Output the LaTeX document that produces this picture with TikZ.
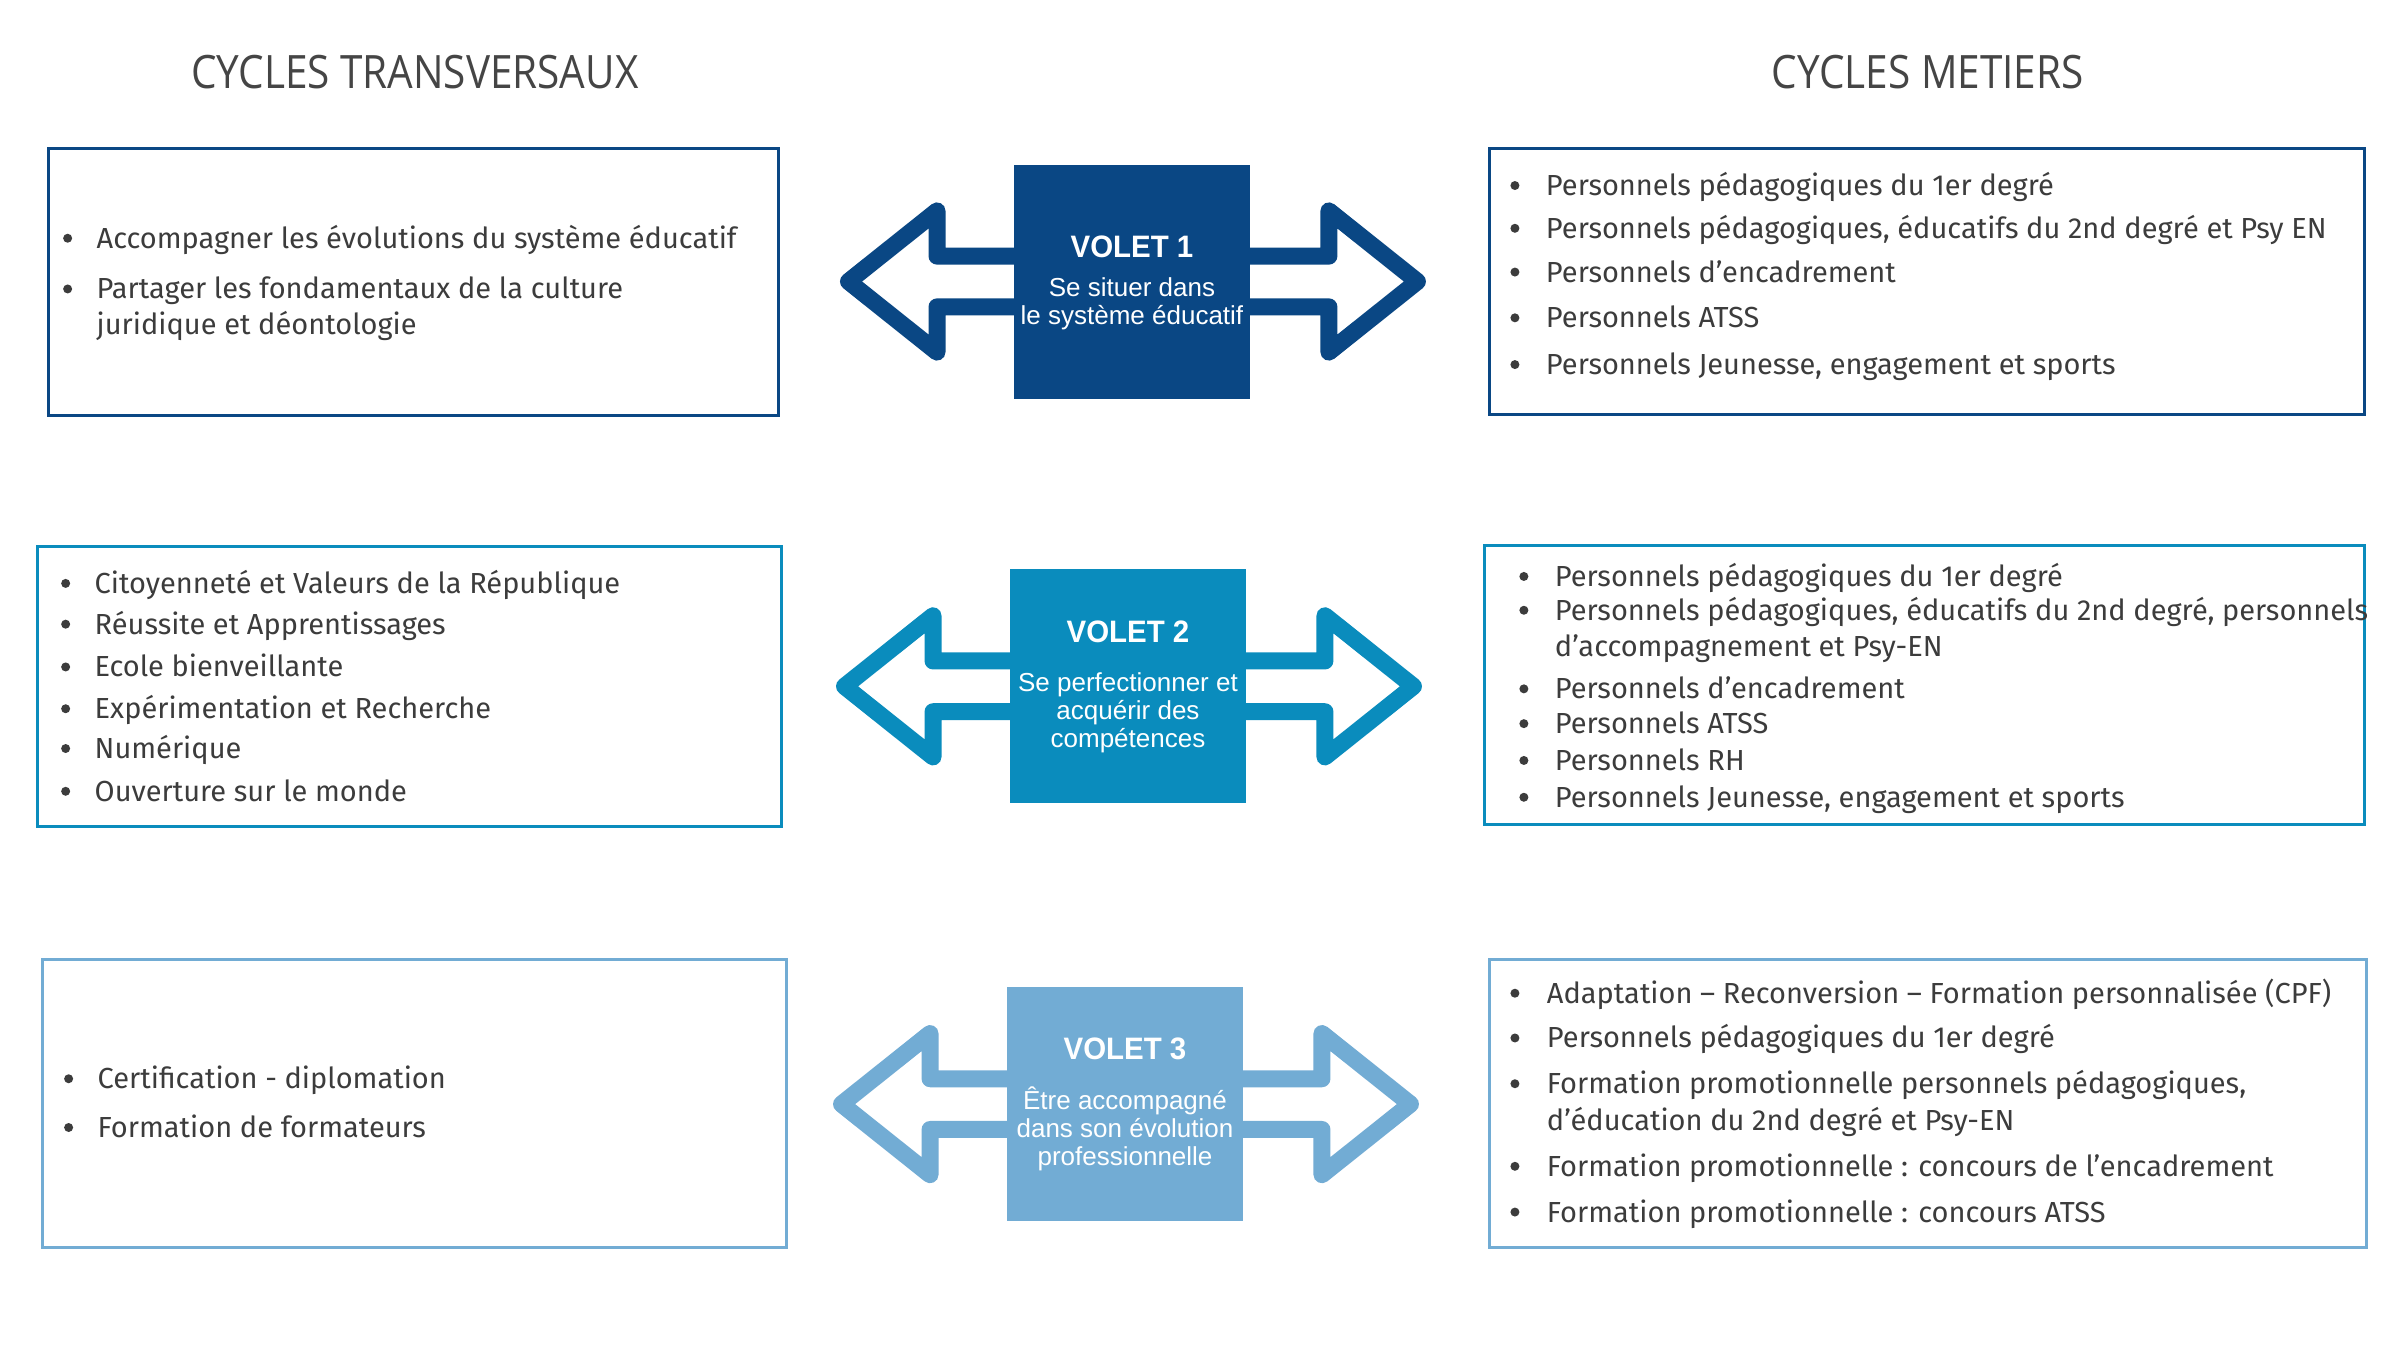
\documentclass[tikz,border=0pt]{standalone}
\usepackage{fontspec}
\setmainfont{Fira Sans}
\newfontfamily\headfont[FakeStretch=0.88]{Open Sans}
\newfontfamily\listfont{Fira Sans}
\newfontfamily\voletfont{Liberation Sans}
\newfontfamily\voletbold[FakeStretch=0.95]{Liberation Sans Bold}
\definecolor{voletA}{HTML}{0A4784}
\definecolor{voletB}{HTML}{0A8CBD}
\definecolor{voletC}{HTML}{72ACD4}
\definecolor{txtgray}{HTML}{3C3C3C}
\definecolor{headgray}{HTML}{454545}
\tikzset{
  cadre/.style={line width=3pt},
  fleche/.style={line width=17pt, line join=round, fill=white},
  volet/.style={minimum width=236pt, minimum height=234pt, inner sep=0pt, draw=none},
  titre/.style={font=\voletbold\fontsize{31}{37}\selectfont, text=white},
  soustitre/.style={font=\voletfont\fontsize{26}{28}\selectfont, text=white, align=center},
  entete/.style={font=\headfont\fontsize{46}{54}\selectfont, text=headgray},
  puce/.style={anchor=base west, inner sep=0pt, yshift=-1.5pt, font=\listfont\fontsize{29}{34}\selectfont, text=txtgray},
  point/.style={circle, fill=txtgray, minimum size=9pt, inner sep=0pt, yshift=-1.5pt},
}
\begin{document}
\begin{tikzpicture}[x=0.9947pt,y=-0.9947pt]
\useasboundingbox[fill=white] (0,0) rectangle (2412.8,1357.2);
%%%
% en-tetes
%%%
\node[entete] (hg) at (417,72) {CYCLES TRANSVERSAUX};
\node[entete] (hd) at (1938,72) {CYCLES METIERS};
%%%
% cadres
%%%
\draw[cadre,voletA] (49,149) rectangle (783,418);
\draw[cadre,voletA] (1497,149) rectangle (2377,417);
\draw[cadre,voletB] (38,549) rectangle (786,831);
\draw[cadre,voletB] (1492,548) rectangle (2377,829);
\draw[cadre,voletC] (43,965) rectangle (791,1254);
\draw[cadre,voletC] (1497,965) rectangle (2379,1254);
%%%
% fleches et volets
%%%
\coordinate (c1) at (1138,283);
\coordinate (c2) at (1134,690);
\coordinate (c3) at (1131,1110);
\foreach \c/\col in {c1/voletA, c2/voletB, c3/voletC}{
  \begin{scope}[shift={(\c)}]
    \filldraw[fleche,draw=\col] (-285,0) -- (-196,-71) -- (-196,-25.5) -- (198,-25.5)
      -- (198,-71) -- (287,0) -- (198,71) -- (198,25.5) -- (-196,25.5) -- (-196,71) -- cycle;
  \end{scope}
}
\node[volet,fill=voletA] (v1) at (c1) {};
\node[volet,fill=voletB] (v2) at (c2) {};
\node[volet,fill=voletC] (v3) at (c3) {};
\node[titre] (t1) at ([yshift=34.5pt]v1.center) {VOLET 1};
\node[soustitre] (s1) at ([yshift=-22pt]v1.center) {Se situer dans\\le système éducatif};
\node[titre] (t2) at ([yshift=55pt]v2.center) {VOLET 2};
\node[soustitre] (s2) at ([yshift=-26pt]v2.center) {Se perfectionner et\\acquérir des\\compétences};
\node[titre] (t3) at ([yshift=55.5pt]v3.center) {VOLET 3};
\node[soustitre] (s3) at ([yshift=-25pt]v3.center) {Être accompagné\\dans son évolution\\professionnelle};
%%%
% cycles transversaux
%%%
\node[point] (b11) at (68,238) {};
\node[puce] (l11) at (97,248) {Accompagner les évolutions du système éducatif};
\node[point] (b12) at (68,289) {};
\node[puce] (l12) at (97,299) {Partager les fondamentaux de la culture};
\node[puce] (l12b) at (97,335) {juridique et déontologie};
\node[point] (b21) at (66,585) {};
\node[puce] (l21) at (95,595) {Citoyenneté et Valeurs de la République};
\node[point] (b22) at (66,626) {};
\node[puce] (l22) at (95,636) {Réussite et Apprentissages};
\node[point] (b23) at (66,669) {};
\node[puce] (l23) at (95,679) {Ecole bienveillante};
\node[point] (b24) at (66,711) {};
\node[puce] (l24) at (95,721) {Expérimentation et Recherche};
\node[point] (b25) at (66,751) {};
\node[puce] (l25) at (95,761) {Numérique};
\node[point] (b26) at (66,794) {};
\node[puce] (l26) at (95,804) {Ouverture sur le monde};
\node[point] (b31) at (69,1083) {};
\node[puce] (l31) at (98,1093) {Certification - diplomation};
\node[point] (b32) at (69,1132) {};
\node[puce] (l32) at (98,1142) {Formation de formateurs};
%%%
% cycles metiers
%%%
\node[point] (m11b) at (1523,185) {};
\node[puce] (m11) at (1554,195) {Personnels pédagogiques du 1er degré};
\node[point] (m12b) at (1523,228) {};
\node[puce] (m12) at (1554,238) {Personnels pédagogiques, éducatifs du 2nd degré et Psy EN};
\node[point] (m13b) at (1523,272) {};
\node[puce] (m13) at (1554,282) {Personnels d’encadrement};
\node[point] (m14b) at (1523,318) {};
\node[puce] (m14) at (1554,328) {Personnels ATSS};
\node[point] (m15b) at (1523,365) {};
\node[puce] (m15) at (1554,375) {Personnels Jeunesse, engagement et sports};
\node[point] (m21b) at (1532,578) {};
\node[puce] (m21) at (1563,588) {Personnels pédagogiques du 1er degré};
\node[point] (m22b) at (1532,612) {};
\node[puce] (m22) at (1563,622) {Personnels pédagogiques, éducatifs du 2nd degré, personnels};
\node[puce] (m22c) at (1563,658) {d’accompagnement et Psy-EN};
\node[point] (m23b) at (1532,691) {};
\node[puce] (m23) at (1563,701) {Personnels d’encadrement};
\node[point] (m24b) at (1532,726) {};
\node[puce] (m24) at (1563,736) {Personnels ATSS};
\node[point] (m25b) at (1532,763) {};
\node[puce] (m25) at (1563,773) {Personnels RH};
\node[point] (m26b) at (1532,800) {};
\node[puce] (m26) at (1563,810) {Personnels Jeunesse, engagement et sports};
\node[point] (m31b) at (1523,997) {};
\node[puce] (m31) at (1555,1007) {Adaptation – Reconversion – Formation personnalisée (CPF)};
\node[point] (m32b) at (1523,1042) {};
\node[puce] (m32) at (1555,1052) {Personnels pédagogiques du 1er degré};
\node[point] (m33b) at (1523,1088) {};
\node[puce] (m33) at (1555,1098) {Formation promotionnelle personnels pédagogiques,};
\node[puce] (m33c) at (1555,1135) {d’éducation du 2nd degré et Psy-EN};
\node[point] (m34b) at (1523,1171) {};
\node[puce] (m34) at (1555,1181) {Formation promotionnelle : concours de l’encadrement};
\node[point] (m35b) at (1523,1217) {};
\node[puce] (m35) at (1555,1227) {Formation promotionnelle : concours ATSS};
\end{tikzpicture}
\end{document}
